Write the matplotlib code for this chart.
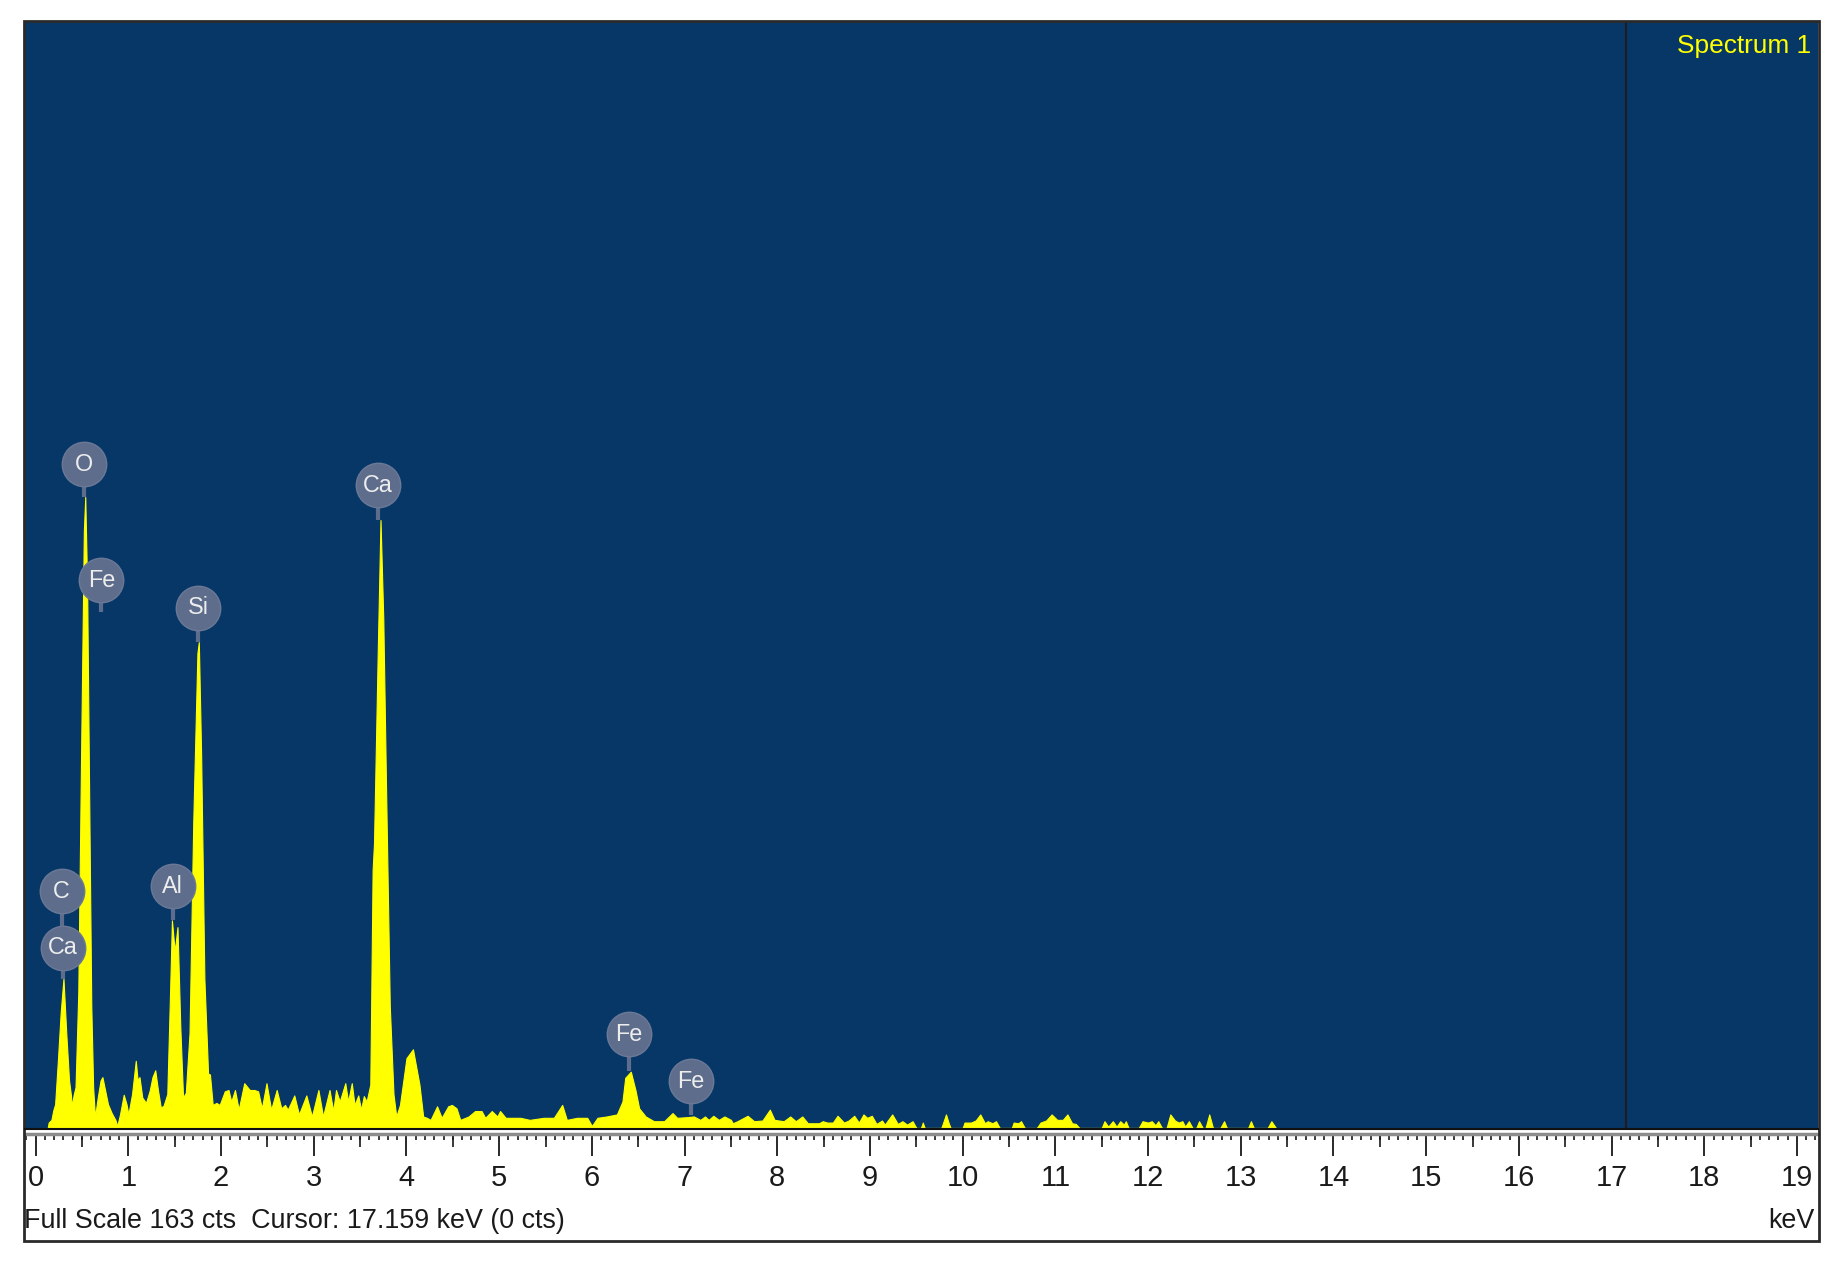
import numpy as np
import matplotlib
matplotlib.use("Agg")
from matplotlib import pyplot as plt
from matplotlib import font_manager as fm
from matplotlib.patches import Rectangle
from matplotlib.lines import Line2D
from matplotlib.ticker import MultipleLocator

# spectrum (energy in keV, counts)
spec_kev = [0.13, 0.14, 0.17, 0.19, 0.21, 0.24, 0.27, 0.30, 0.33, 0.36, 0.38, 0.39, 0.41, 0.43,
            0.46, 0.49, 0.52, 0.535, 0.555, 0.58, 0.60, 0.62, 0.64, 0.67, 0.70, 0.72, 0.75, 0.78,
            0.82, 0.86, 0.88, 0.91, 0.95, 0.98, 1.00, 1.04, 1.08, 1.10, 1.12, 1.15, 1.19, 1.23,
            1.26, 1.29, 1.32, 1.35, 1.38, 1.42, 1.45, 1.47, 1.50, 1.53, 1.56, 1.59, 1.62, 1.66,
            1.70, 1.745, 1.76, 1.785, 1.82, 1.86, 1.88, 1.91, 1.95, 1.985, 2.04, 2.08, 2.11, 2.15,
            2.19, 2.25, 2.31, 2.36, 2.40, 2.44, 2.49, 2.54, 2.60, 2.65, 2.69, 2.72, 2.79, 2.84,
            2.92, 2.98, 3.05, 3.10, 3.17, 3.21, 3.24, 3.28, 3.34, 3.37, 3.41, 3.44, 3.48, 3.51,
            3.54, 3.57, 3.61, 3.635, 3.65, 3.69, 3.72, 3.75, 3.78, 3.82, 3.86, 3.89, 3.93, 4.00,
            4.07, 4.14, 4.18, 4.22, 4.26, 4.33, 4.38, 4.45, 4.49, 4.54, 4.58, 4.67, 4.74, 4.81,
            4.85, 4.92, 4.98, 5.01, 5.07, 5.23, 5.33, 5.48, 5.59, 5.68, 5.73, 5.84, 5.95, 6.00,
            6.06, 6.16, 6.27, 6.33, 6.36, 6.42, 6.47, 6.51, 6.58, 6.67, 6.78, 6.87, 6.92, 7.03,
            7.10, 7.17, 7.22, 7.26, 7.31, 7.37, 7.43, 7.50, 7.52, 7.57, 7.68, 7.75, 7.84, 7.92,
            7.97, 8.07, 8.14, 8.20, 8.27, 8.33, 8.45, 8.49, 8.54, 8.60, 8.65, 8.72, 8.77, 8.83,
            8.88, 8.93, 8.97, 9.02, 9.07, 9.13, 9.16, 9.24, 9.30, 9.35, 9.40, 9.46, 9.50, 9.55,
            9.57, 9.59, 9.77, 9.82, 9.85, 9.87, 10.00, 10.02, 10.09, 10.14, 10.19, 10.24, 10.27,
            10.32, 10.36, 10.40, 10.53, 10.55, 10.60, 10.63, 10.67, 10.80, 10.84, 10.90, 10.96,
            11.02, 11.08, 11.13, 11.18, 11.22, 11.26, 11.50, 11.53, 11.57, 11.62, 11.66, 11.70,
            11.74, 11.76, 11.79, 11.90, 11.94, 12.00, 12.04, 12.08, 12.11, 12.15, 12.20, 12.24,
            12.29, 12.33, 12.37, 12.40, 12.44, 12.48, 12.52, 12.55, 12.59, 12.62, 12.66, 12.70,
            12.78, 12.82, 12.85, 13.08, 13.11, 13.14, 13.29, 13.33, 13.38]
spec_cts = [0, 0.8, 1.2, 2.6, 3.5, 10, 17, 22, 14, 7, 4.9, 3.2, 4.9, 6,
            20, 55, 88, 93, 80, 45, 18, 6, 1.6, 4.5, 7, 7.5, 5.5, 3.5,
            2.2, 1.2, 0.3, 2, 4.9, 3.5, 2, 5, 9.9, 7, 7.5, 4.5, 3.7, 5.5,
            7.5, 8.5, 5.5, 3, 3.3, 5, 20, 30.6, 26, 29.6, 15, 4.5, 5.2, 14,
            45, 70, 71.6, 55, 22, 8, 7.9, 3.4, 3.7, 3.4, 5.4, 5.6, 3.9, 5.6,
            2.7, 6.6, 5.6, 5.6, 5.4, 2.9, 6.6, 2.7, 5.6, 2.9, 3.4, 2.7, 4.8, 2.0,
            4.8, 1.7, 5.6, 1.7, 5.6, 2.5, 5.6, 3.9, 6.6, 3.9, 6.6, 3.4, 4.8, 2.7,
            4.7, 3.9, 6.4, 38, 42, 70, 89.6, 75, 50, 18, 5, 1.7, 3.4, 10.3,
            11.6, 6.4, 1.7, 1.5, 1.2, 3.2, 1.5, 3.2, 3.4, 2.9, 1.2, 1.7, 2.5, 2.5,
            1.5, 2.5, 1.7, 2.5, 1.5, 1.5, 1.2, 1.5, 1.5, 3.4, 1.2, 1.5, 1.5, 0.3,
            1.5, 1.7, 2.0, 3.9, 7.4, 8.3, 5.6, 2.9, 1.7, 1.0, 1.0, 2.2, 1.5, 1.6,
            1.7, 1.2, 1.7, 1.2, 1.8, 1.2, 1.7, 1.2, 0.7, 1.0, 1.8, 1.0, 1.1, 2.7,
            1.2, 1.0, 1.7, 1.0, 1.7, 0.7, 0.7, 1.0, 0.8, 0.8, 1.8, 0.8, 1.1, 1.8,
            0.8, 2.0, 1.5, 1.8, 0.6, 1.1, 0.5, 2.0, 0.6, 1.0, 0.5, 1.0, 0, 0,
            0.8, 0, 0, 2.0, 0.7, 0, 0, 0.8, 0.8, 1.1, 2.0, 0.7, 1.0,
            0.7, 1.0, 0, 0, 0.8, 0.7, 1.0, 0, 0, 0.8, 1.1, 2.0,
            1.2, 1.2, 2.0, 0.7, 0.6, 0, 0, 1.0, 0.2, 1.0, 0.2, 1.0,
            0.5, 1.0, 0, 0, 1.0, 0.8, 1.0, 0.4, 1.0, 0, 0, 2.0,
            1.1, 0.8, 1.0, 0.2, 1.0, 0, 0, 1.0, 0, 0, 2.0, 0,
            0, 1.0, 0, 0, 1.0, 0, 0, 1.0, 0]

# element markers: name, energy, height of circle, end of stem (counts)
label_names = ["O", "Fe", "Si", "C", "Ca", "Al", "Ca", "Fe", "Fe"]
label_kev = [0.52, 0.71, 1.75, 0.28, 0.29, 1.48, 3.69, 6.40, 7.07]
label_cts = [97.8, 80.7, 76.7, 34.9, 26.6, 35.6, 94.7, 13.8, 6.9]
label_tip = [93.0, 76.0, 71.6, 26.6, 22.0, 30.6, 89.6, 8.4, 1.9]

full_scale = 163
cursor_kev = 17.159
spectrum_name = "Spectrum 1"

names = {f.name for f in fm.fontManager.ttflist}
if "Liberation Sans Narrow" in names:
    FONT = "Liberation Sans Narrow"
    k = 1.0
else:
    FONT = "Liberation Sans"
    k = 0.82
plt.rcParams['font.family'] = [FONT, 'DejaVu Sans']

W, H = 1839, 1265
fig = plt.figure(figsize=(W / 100, H / 100), dpi=100)
fig.patch.set_facecolor("white")

BLUE = "#063767"
YELLOW = "#FFFF00"
GREY = "#5E6D8C"

ax = fig.add_axes([25 / W, 1 - 1128 / H, 1793 / W, 1106 / H])
ax.set_facecolor(BLUE)
ax.set_xlim(-0.115, 19.227)
ax.set_ylim(0, full_scale)

ax.fill_between(spec_kev, spec_cts, 0, color=YELLOW, lw=0.8, edgecolor=YELLOW, zorder=2)
ax.axvline(cursor_kev, color="#1c1c24", lw=1.6, zorder=1)

# element labels
ax.vlines(label_kev, label_tip, label_cts, color=GREY, lw=3, zorder=3)
ax.plot(label_kev, label_cts, 'o', ms=32, color=GREY, mec="#6b7997", mew=1, zorder=4, ls='none')
for name, kx, cy in zip(label_names, label_kev, label_cts):
    ax.text(kx, cy, name, ha='center', va='center', color="#EDEDED",
            fontsize=20.5 * k, zorder=5)

ax.text(0.996, 0.978, spectrum_name, transform=ax.transAxes, ha='right', va='center',
        color=YELLOW, fontsize=23 * k)

# ruler along the bottom
for s in ['top', 'left', 'right']:
    ax.spines[s].set_visible(False)
ax.spines['bottom'].set_position(('outward', 4))
ax.spines['bottom'].set_color("#8c8c8c")
ax.spines['bottom'].set_linewidth(2.5)
ax.set_yticks([])
ax.xaxis.set_major_locator(MultipleLocator(1))
ax.xaxis.set_minor_locator(MultipleLocator(0.1))
ax.tick_params(axis='x', which='major', direction='out', length=16, width=1.3,
               color="#181818", labelsize=25.5 * k, labelcolor="#1a1a1a", pad=6)
ax.tick_params(axis='x', which='minor', direction='out', length=4.5, width=1.2,
               color="#181818")

sec = ax.secondary_xaxis('bottom')
sec.spines['bottom'].set_position(('outward', 4))
sec.spines['bottom'].set_visible(False)
sec.set_xticks(np.arange(0.5, 19.5, 1.0))
sec.tick_params(axis='x', direction='out', length=9.5, width=1.2, color="#181818",
                labelbottom=False)

fig.add_artist(Line2D([25 / W, 1818 / W], [1 - 1128.5 / H, 1 - 1128.5 / H],
                      color="#101010", lw=1.5))

# outer frame
fig.add_artist(Rectangle((24 / W, 1 - 1241 / H), 1795 / W, 1220 / H, fill=False,
                         edgecolor="#2a2a2a", lw=2))

fig.text(24 / W, 1 - 1221 / H, "Full Scale %d cts  Cursor: %.3f keV (0 cts)" % (full_scale, cursor_kev),
         ha='left', va='center', fontsize=23.6 * k, color="#1a1a1a")
fig.text(1815 / W, 1 - 1221 / H, "keV", ha='right', va='center', fontsize=23.6 * k,
         color="#1a1a1a")

fig.savefig("out.png", dpi=100)
